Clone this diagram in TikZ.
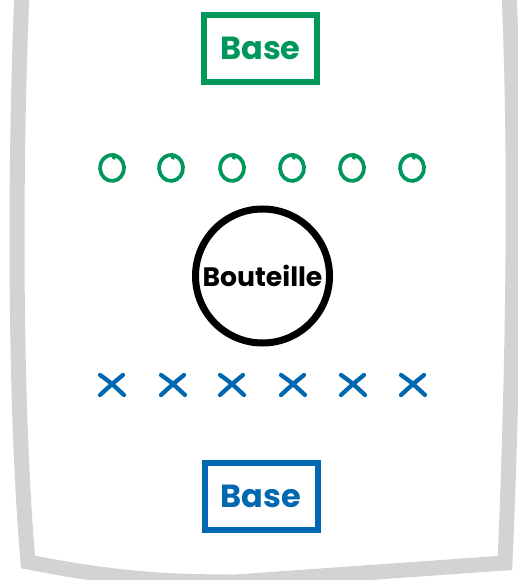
\documentclass[tikz,border=0pt]{standalone}
\usepackage{fontspec}
\setmainfont{Poppins}
\usepackage{tikz}
\usetikzlibrary{positioning}
\definecolor{framegray}{HTML}{D1D3D4}
\definecolor{basegreen}{HTML}{00985A}
\definecolor{baseblue}{HTML}{0068B0}
\begin{document}
\begin{tikzpicture}[x=0.75pt,y=-0.75pt,
  basebox/.style={draw,line width=4.5pt,minimum width=84.75pt,minimum height=50.5pt,inner sep=0pt,font=\fontsize{24}{28}\selectfont\bfseries},
  oline/.style={draw=basegreen,line width=2.8pt,line cap=round},
  xline/.style={draw=baseblue,line width=3.2pt,line cap=round}]
\useasboundingbox (0,0) rectangle (517,580);
% frame
\draw[framegray,line width=11.25pt] (22,-8) .. controls (15,150) and (14,400) .. (28,562)
  .. controls (110,578) and (160,582) .. (235,582) -- (505,563)
  .. controls (514,350) and (516,150) .. (509,-8);
\node[basebox,draw=basegreen,text=basegreen] (topbase) at (260.5,48.5) {Base};
\node[draw,circle,line width=5.25pt,minimum size=100.5pt,inner sep=0pt,font=\fontsize{20}{24}\selectfont\bfseries] (bottle) at (262.5,276) {Bouteille};
\node[basebox,draw=baseblue,text=baseblue] (botbase) at (261,496.5) {Base};
% O row
\foreach \x in {112,171,232,292,352,412}
  \draw[oline] (\x-1,155) arc[start angle=-95,end angle=275,x radius=12,y radius=13] -- ++(1,3);
% X row
\foreach \x in {112,173,232,293,353,413}{
  \draw[xline] (\x-12,375) .. controls (\x-2,382) .. (\x+12,395);
  \draw[xline] (\x+11,375) .. controls (\x,384) .. (\x-12,395);}
\end{tikzpicture}
\end{document}
